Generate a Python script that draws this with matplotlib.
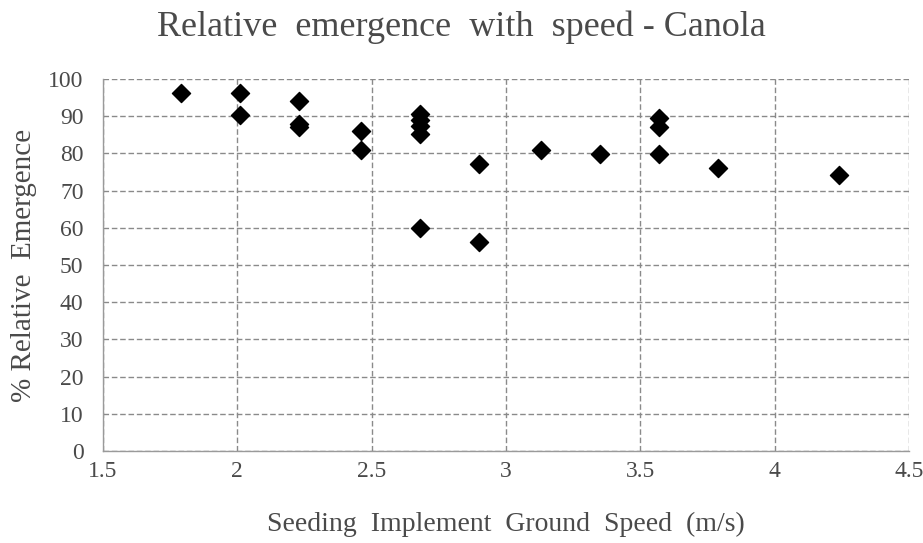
import matplotlib.pyplot as plt

plt.rcParams['font.family'] = ['Liberation Serif', 'DejaVu Serif']

# Ground speed (m/s) and % relative emergence
speed = [1.79, 2.01, 2.01, 2.23, 2.23, 2.23, 2.46, 2.46,
         2.68, 2.68, 2.68, 2.68, 2.68, 2.90, 2.90, 3.13,
         3.35, 3.57, 3.57, 3.57, 3.79, 4.24]
emergence = [96.2, 96.2, 90.3, 94.1, 88.0, 87.0, 86.0, 80.9,
             90.5, 89.0, 87.5, 85.2, 60.0, 77.2, 56.2, 80.9,
             79.8, 89.5, 87.1, 79.8, 76.0, 74.2]

txt = '#4a4a4a'
grid_col = '#8a8a8a'

fig = plt.figure(figsize=(9.23, 5.43), dpi=100)
ax = fig.add_axes([0.1116, 0.1694, 0.8734, 0.6851])

ax.scatter(speed, emergence, marker='D', s=85, color='black', zorder=3)

ax.set_xlim(1.5, 4.5)
ax.set_ylim(0, 100)
ax.set_xticks([1.5, 2, 2.5, 3, 3.5, 4, 4.5])
ax.set_xticklabels(['1.5', '2', '2.5', '3', '3.5', '4', '4.5'])
ax.set_yticks(range(0, 101, 10))

ax.grid(True, linestyle=(0, (4, 2)), color=grid_col, linewidth=1)
ax.set_axisbelow(True)
for side in ['top', 'right']:
    ax.spines[side].set_visible(False)
for side in ['left', 'bottom']:
    ax.spines[side].set_color('#9a9a9a')
    ax.spines[side].set_linewidth(1)

ax.tick_params(length=0, labelsize=17, colors=txt)
ax.tick_params(axis='x', pad=7)
ax.tick_params(axis='y', pad=14)

ax.set_xlabel('Seeding  Implement  Ground  Speed  (m/s)', fontsize=20, color=txt, labelpad=22)
ax.set_ylabel('% Relative  Emergence', fontsize=21, color=txt, labelpad=8)
fig.suptitle('Relative  emergence  with  speed - Canola', fontsize=26, color=txt, y=0.98)

plt.savefig('out.png', dpi=100)
